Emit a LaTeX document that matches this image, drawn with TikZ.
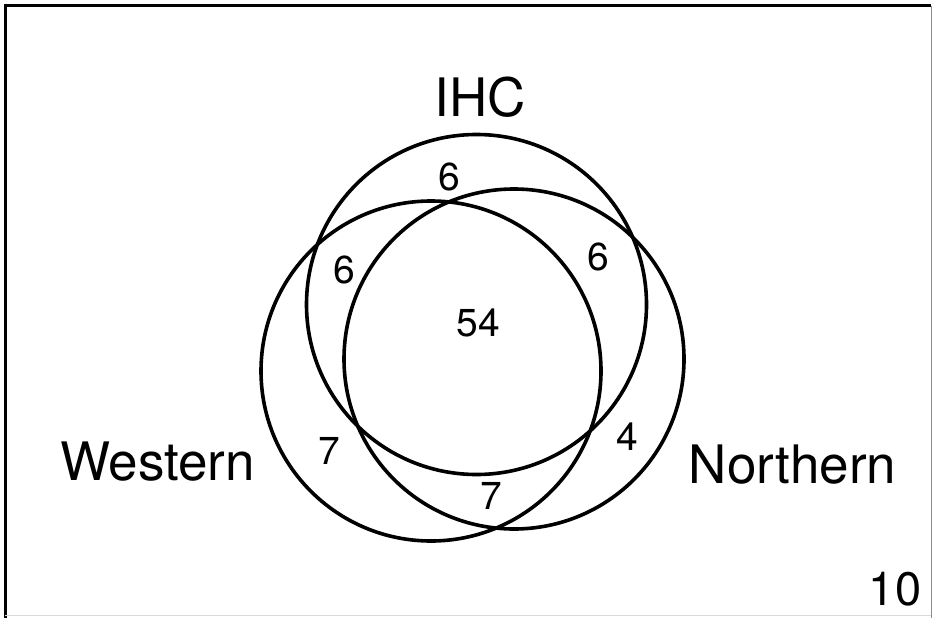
\documentclass[tikz,border=0pt]{standalone}
\usepackage{fontspec}
\setmainfont{TeX Gyre Heros}
\begin{document}
\begin{tikzpicture}[x=1pt,y=-1pt,
  setring/.style={circle, draw=black, line width=3.6pt, inner sep=0pt, minimum size=340pt},
  setname/.style={font=\fontsize{53}{60}\selectfont, anchor=base, inner sep=0pt},
  count/.style={font=\fontsize{39}{44}\selectfont, inner sep=0pt},
  frameline/.style={line width=3pt, black}]
\useasboundingbox (0,0) rectangle (933,618);
\fill[white] (0,0) rectangle (933,618);
% panel frame
\draw[frameline] (5,618) -- (5,6) -- (931,6);
\draw[line width=1pt, black!45] (931,6) -- (931,618);
\draw[line width=0.8pt, black!15] (5,615) -- (931,615);
% the three sets
\node[setring] (ihc) at (476.5,304.5) {};
\node[setring] (west) at (431,371) {};
\node[setring] (north) at (514,359) {};
% set names
\node[setname] (lihc) at (480,116) {IHC};
\node[setname] (lwest) at (157.5,480) {Western};
\node[setname] (lnorth) at (792.5,483) {Northern};
\node[font=\fontsize{47}{52}\selectfont, anchor=base, inner sep=0pt] (panel) at (895,605) {10};
% region counts
\node[count] (c1) at (449,177) {6};
\node[count] (c2) at (344,270) {6};
\node[count] (c3) at (598,257) {6};
\node[count] (c4) at (478,323) {54};
\node[count] (c5) at (329,451) {7};
\node[count] (c6) at (627,437) {4};
\node[count] (c7) at (491,496) {7};
\end{tikzpicture}
\end{document}
